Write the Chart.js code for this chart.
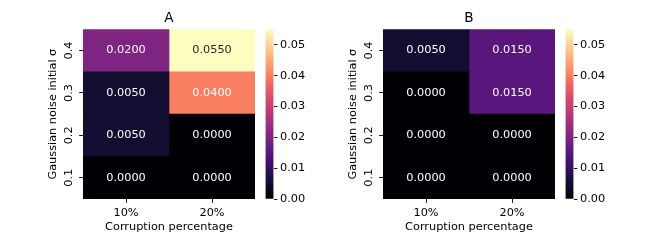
<!DOCTYPE html>
<html>
<head>
<meta charset="utf-8">
<script src="https://cdn.jsdelivr.net/npm/chart.js@4.4.0/dist/chart.umd.min.js"></script>
<style>
  body { margin: 0; background: #fff; }
  #wrap { position: relative; width: 664px; height: 249px; }
  canvas { position: absolute; top: 0; }
</style>
</head>
<body>
<div id="wrap">
  <canvas id="heatA" width="332" height="249" style="left:0px"></canvas>
  <canvas id="cbarA" width="77" height="249" style="left:255px"></canvas>
  <canvas id="heatB" width="332" height="249" style="left:332px"></canvas>
  <canvas id="cbarB" width="77" height="249" style="left:555px"></canvas>
</div>
<script>
// rows top to bottom, columns left to right
const rowLabels = ['0.4', '0.3', '0.2', '0.1'];
const colLabels = ['10%', '20%'];
const panelA10 = [0.0200, 0.0050, 0.0050, 0.0000];
const panelA20 = [0.0550, 0.0400, 0.0000, 0.0000];
const panelB10 = [0.0050, 0.0000, 0.0000, 0.0000];
const panelB20 = [0.0150, 0.0150, 0.0000, 0.0000];
const colorbarTicks = [0, 0.01, 0.02, 0.03, 0.04, 0.05];
const vmin = 0;
const vmax = 0.055;
const xTitle = 'Corruption percentage';
const yTitle = 'Gaussian noise initial σ';

Chart.defaults.font.family = '"DejaVu Sans", sans-serif';
Chart.defaults.font.size = 11.3;
Chart.defaults.color = '#000';

// magma colormap stops
const magmaStops = [
  [0.0, '#000004'], [0.1, '#140e36'], [0.111, '#180f3d'], [0.2, '#3b0f70'],
  [0.222, '#440f76'], [0.3, '#641a80'], [0.333, '#721f81'], [0.4, '#8c2981'],
  [0.444, '#9e2f7f'], [0.5, '#b73779'], [0.556, '#cd4071'], [0.6, '#de4968'],
  [0.667, '#f1605d'], [0.7, '#f7705c'], [0.778, '#fd9668'], [0.8, '#fe9f6d'],
  [0.889, '#feca8d'], [0.9, '#fecf92'], [1.0, '#fcfdbf']
];

function hexRgb(h) {
  return [1, 3, 5].map(i => parseInt(h.slice(i, i + 2), 16));
}

function magmaRgb(t) {
  t = Math.max(0, Math.min(1, t));
  for (let i = 1; i < magmaStops.length; i++) {
    const [t1, c1] = magmaStops[i];
    if (t <= t1) {
      const [t0, c0] = magmaStops[i - 1];
      const f = (t - t0) / (t1 - t0);
      const a = hexRgb(c0), b = hexRgb(c1);
      return a.map((v, k) => Math.round(v + (b[k] - v) * f));
    }
  }
  return hexRgb('#fcfdbf');
}

function magma(t) {
  const c = magmaRgb(t);
  return `rgb(${c[0]},${c[1]},${c[2]})`;
}

function luminance(rgb) {
  const lin = rgb.map(v => {
    v = v / 255;
    return v <= 0.03928 ? v / 12.92 : Math.pow((v + 0.055) / 1.055, 2.4);
  });
  return 0.2126 * lin[0] + 0.7152 * lin[1] + 0.0722 * lin[2];
}

const norm = v => (v - vmin) / (vmax - vmin);

// write the value in each cell
const cellLabels = {
  id: 'cellLabels',
  afterDatasetsDraw(chart) {
    const ctx = chart.ctx;
    ctx.save();
    ctx.font = '11.3px "DejaVu Sans"';
    ctx.textAlign = 'center';
    ctx.textBaseline = 'middle';
    chart.data.datasets.forEach((ds, di) => {
      chart.getDatasetMeta(di).data.forEach((bar, i) => {
        const v = ds.values[i];
        const p = bar.getCenterPoint();
        ctx.fillStyle = luminance(magmaRgb(norm(v))) > 0.408 ? '#262626' : '#ffffff';
        ctx.fillText(v.toFixed(4), p.x, p.y);
      });
    });
    ctx.restore();
  }
};

const tickGrid = {
  drawOnChartArea: false,
  drawTicks: true,
  tickLength: 3.9,
  tickWidth: 0.9,
  tickColor: '#000'
};

function heatmap(id, col10, col20, title, padLeft, padRight) {
  const cols = [col10, col20];
  new Chart(document.getElementById(id), {
    type: 'bar',
    data: {
      labels: rowLabels,
      datasets: cols.map((vals, i) => ({
        label: colLabels[i],
        data: vals.map(() => 1),
        values: vals,
        backgroundColor: vals.map(v => magma(norm(v))),
        borderWidth: 0,
        barPercentage: 1,
        categoryPercentage: 1
      }))
    },
    options: {
      indexAxis: 'y',
      responsive: false,
      animation: false,
      devicePixelRatio: 1,
      events: [],
      layout: { padding: { left: padLeft, right: padRight, top: 0, bottom: 0 } },
      plugins: {
        legend: { display: false },
        tooltip: { enabled: false },
        title: {
          display: true,
          text: title,
          fullSize: false,
          color: '#000',
          font: { size: 13.6, weight: 'normal' },
          padding: { top: 10.8, bottom: 2.2 }
        }
      },
      scales: {
        x: {
          type: 'linear',
          stacked: true,
          min: 0,
          max: 2,
          afterBuildTicks: s => { s.ticks = colLabels.map((_, i) => ({ value: i + 0.5 })); },
          afterFit: s => { s.height = 50; },
          ticks: { callback: (v, i) => colLabels[i], padding: 3, maxRotation: 0 },
          grid: tickGrid,
          border: { display: false },
          title: { display: true, text: xTitle, padding: { top: 0, bottom: 14.7 } }
        },
        y: {
          stacked: true,
          afterFit: s => { s.width = 51; },
          ticks: { minRotation: 90, maxRotation: 90, crossAlign: 'center', padding: 1, autoSkip: false },
          grid: Object.assign({ offset: false }, tickGrid),
          border: { display: false },
          title: { display: true, text: yTitle, padding: { top: 13.9, bottom: 0 } }
        }
      }
    },
    plugins: [cellLabels]
  });
}

function colorbar(id) {
  new Chart(document.getElementById(id), {
    type: 'bar',
    data: {
      labels: [''],
      datasets: [{
        data: [[vmin, vmax]],
        backgroundColor: c => {
          const area = c.chart.chartArea;
          if (!area) return null;
          const g = c.chart.ctx.createLinearGradient(0, area.bottom, 0, area.top);
          magmaStops.forEach(([t, col]) => g.addColorStop(t, col));
          return g;
        },
        borderWidth: 0,
        barPercentage: 1,
        categoryPercentage: 1
      }]
    },
    options: {
      responsive: false,
      animation: false,
      devicePixelRatio: 1,
      events: [],
      layout: { padding: { left: 10.5, right: 0, top: 29.3, bottom: 50 } },
      plugins: { legend: { display: false }, tooltip: { enabled: false } },
      scales: {
        x: { display: false },
        y: {
          position: 'right',
          min: vmin,
          max: vmax,
          afterBuildTicks: s => { s.ticks = colorbarTicks.map(v => ({ value: v })); },
          afterFit: s => { s.width = 58.5; },
          ticks: { callback: v => v.toFixed(2), padding: 2.6 },
          grid: tickGrid,
          border: { display: false }
        }
      }
    }
  });
}

heatmap('heatA', panelA10, panelA20, 'A', 32, 77);
colorbar('cbarA');
heatmap('heatB', panelB10, panelB20, 'B', 0, 109);
colorbar('cbarB');
</script>
</body>
</html>
